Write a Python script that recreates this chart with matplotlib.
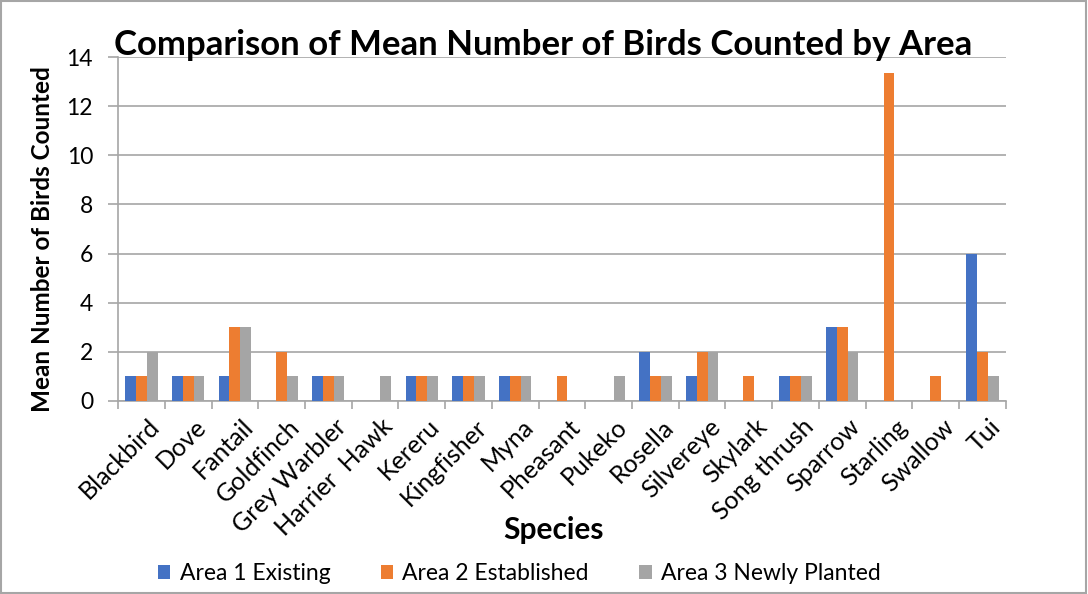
import numpy as np
import matplotlib
matplotlib.use("Agg")
import matplotlib.pyplot as plt
from matplotlib.patches import Rectangle

species = ["Blackbird", "Dove", "Fantail", "Goldfinch", "Grey Warbler", "Harrier  Hawk",
           "Kereru", "Kingfisher", "Myna", "Pheasant", "Pukeko", "Rosella", "Silvereye",
           "Skylark", "Song thrush", "Sparrow", "Starling", "Swallow", "Tui"]
area1 = [1, 1, 1, 0, 1, 0, 1, 1, 1, 0, 0, 2, 1, 0, 1, 3, 0, 0, 6]
area2 = [1, 1, 3, 2, 1, 0, 1, 1, 1, 1, 0, 1, 2, 1, 1, 3, 13.33, 1, 2]
area3 = [2, 1, 3, 1, 1, 1, 1, 1, 1, 0, 1, 1, 2, 0, 1, 2, 0, 0, 1]
series_names = ["Area 1 Existing", "Area 2 Established", "Area 3 Newly Planted"]
colors = ["#4472c4", "#ed7d31", "#a5a5a5"]

plt.rcParams["font.family"] = ["Lato", "DejaVu Sans"]

fig = plt.figure(figsize=(10.88, 5.94), dpi=100)
ax = fig.add_axes([0.1085, 0.325, 0.816, 0.579])

x = np.arange(len(species))
w = 0.23
for i, (vals, c, name) in enumerate(zip([area1, area2, area3], colors, series_names)):
    ax.bar(x + (i - 1) * w, vals, width=w, color=c, label=name, zorder=3)

ax.set_xlim(-0.5, len(species) - 0.5)
ax.set_ylim(0, 14)
ax.set_yticks(np.arange(0, 15, 2))
ax.yaxis.grid(True, color="#a6a6a6", lw=1.2, zorder=0)
# category boundary ticks (major) + centred labels (minor)
ax.set_xticks(np.arange(-0.5, len(species), 1))
ax.set_xticklabels([])
ax.set_xticks(x + 0.13, minor=True)
ax.set_xticklabels(species, minor=True, rotation=45, ha="right",
                   rotation_mode="anchor", fontsize=18)
ax.tick_params(axis="x", which="minor", length=0, pad=10)
ax.tick_params(axis="x", which="major", length=6, color="#a6a6a6", width=1.2)
ax.tick_params(axis="y", length=7, color="#a6a6a6", width=1.2, labelsize=16.5, pad=11)
for s in ["top", "right"]:
    ax.spines[s].set_visible(False)
for s in ["left", "bottom"]:
    ax.spines[s].set_color("#a6a6a6")
    ax.spines[s].set_linewidth(1.2)

ax.set_ylabel("Mean Number of Birds Counted", fontsize=17.5, fontweight="bold")
ax.yaxis.set_label_coords(-0.072, 0.47)
fig.text(0.509, 0.108, "Species", ha="center", va="center", fontsize=21.5, fontweight="bold")
fig.text(0.499, 0.924, "Comparison of Mean Number of Birds Counted by Area",
         ha="center", va="center", fontsize=25, fontweight="bold")

ax.legend(loc="center", bbox_to_anchor=(0.452, -0.502), ncol=3, frameon=False,
          fontsize=16.5, handlelength=0.55, handleheight=0.55, columnspacing=2.2,
          handletextpad=0.4)

fig.add_artist(Rectangle((0.001, 0.002), 0.997, 0.996, transform=fig.transFigure,
                         fill=False, edgecolor="#a6a6a6", lw=1.5))

fig.savefig("out.png", dpi=100)
